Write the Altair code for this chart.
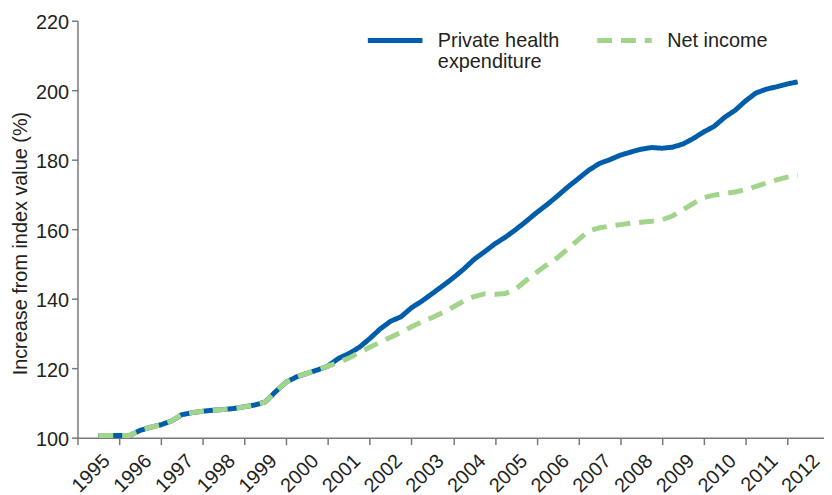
import altair as alt
import pandas as pd

# ---- data ----
years = list(range(1995, 2012))
quarters = [f"{y}-Q{q}" for y in years for q in (1, 2, 3, 4)]

private_health = [
    100.6, 100.6, 100.6, 100.6,
    102.1, 103.0, 103.7, 104.8,
    106.6, 107.2, 107.6, 107.9,
    108.1, 108.4, 108.9, 109.4,
    110.3, 113.3, 116.0, 117.5,
    118.5, 119.5, 120.6, 122.8,
    124.2, 126.0, 128.5, 131.3,
    133.5, 134.8, 137.4, 139.3,
    141.5, 143.7, 146.0, 148.5,
    151.3, 153.5, 155.8, 157.7,
    159.9, 162.3, 164.8, 167.1,
    169.6, 172.2, 174.6, 177.0,
    178.9, 180.0, 181.3, 182.2,
    183.0, 183.5, 183.3, 183.6,
    184.5, 186.1, 188.0, 189.6,
    192.2, 194.2, 196.9, 199.2,
    200.3, 201.0, 201.8, 202.4,
]
net_income = [
    100.6, 100.6, 100.6, 100.6,
    102.1, 103.0, 103.7, 104.8,
    106.6, 107.2, 107.6, 107.9,
    108.1, 108.4, 108.9, 109.4,
    110.3, 113.3, 116.0, 117.5,
    118.5, 119.5, 120.6, 121.6,
    122.9, 124.5, 126.0, 127.5,
    128.9, 130.3, 131.9, 133.3,
    134.6, 136.0, 137.6, 139.3,
    140.6, 141.4, 141.3, 141.5,
    142.8, 145.3, 147.6, 149.8,
    151.8, 154.4, 157.0, 159.5,
    160.4, 160.9, 161.3, 161.7,
    162.0, 162.3, 162.7, 163.8,
    165.6, 167.4, 169.1, 169.8,
    170.3, 170.7, 171.4, 172.3,
    173.3, 174.2, 175.0, 175.6,
]

series_names = ["Private health expenditure", "Net income"]
series_colors = ["#005DAA", "#A2D48C"]
series_dashes = [[1, 0], [15, 9]]
year_labels = list(range(1995, 2013))
y_ticks = [100, 120, 140, 160, 180, 200, 220]

rows = []
for name, vals in zip(series_names, [private_health, net_income]):
    for qlab, v in zip(quarters, vals):
        yr, q = qlab.split("-Q")
        rows.append({"quarter": qlab, "t": int(yr) + (int(q) - 1) / 4,
                     "value": v, "series": name})
df = pd.DataFrame(rows)

FONT = "Liberation Sans"
TXT = "#231F20"
AX = "#77787B"

legend = alt.Legend(
    title=None, orient="none", legendX=290, legendY=-10, direction="horizontal",
    symbolType="stroke", symbolSize=3025, symbolStrokeWidth=5,
    labelFontSize=20, labelFont=FONT, labelColor=TXT, labelOffset=13,
    columnPadding=27, labelLimit=400, padding=0, labelBaseline="middle",
    labelExpr="datum.label == 'Private health expenditure' ? ['Private health', 'expenditure'] : [datum.label, ' ']",
)

x_enc = alt.X(
    "t:Q",
    scale=alt.Scale(domain=[1994.5, 2012.38], nice=False, zero=False),
    axis=alt.Axis(
        values=year_labels, format="d", title=None, grid=False,
        tickOffset=-21.03, labelOffset=29, labelAngle=-45,
        labelAlign="right", labelBaseline="middle", labelPadding=13,
        tickSize=7, labelFontSize=20, labelOverlap=False, labelFlush=False,
    ),
)
y_enc = alt.Y(
    "value:Q",
    scale=alt.Scale(domain=[100, 220], nice=False, zero=False),
    axis=alt.Axis(
        values=y_ticks, title="Increase from index value (%)", grid=False,
        tickSize=6, labelPadding=3, labelFontSize=20, labelOffset=2,
        titleFontSize=20, titleFontWeight="normal", titleAngle=270,
        titleX=-51, titleY=224, titleBaseline="alphabetic", titleAlign="center",
    ),
)
color_enc = alt.Color("series:N", scale=alt.Scale(domain=series_names, range=series_colors), legend=legend)
dash_enc = alt.StrokeDash("series:N", scale=alt.Scale(domain=series_names, range=series_dashes), legend=legend)

layers = []
for name in series_names:
    layers.append(
        alt.Chart(df)
        .transform_filter(alt.datum.series == name)
        .mark_line(strokeWidth=5, strokeCap="butt", strokeJoin="round")
        .encode(x=x_enc, y=y_enc, color=color_enc, strokeDash=dash_enc, detail="series:N")
    )

chart = (
    alt.layer(*layers)
    .properties(
        width=752, height=420,
        autosize=alt.AutoSizeParams(type="none"),
        padding={"left": 70, "top": 11, "right": 0, "bottom": 60},
        background="white",
    )
    .configure_view(strokeOpacity=0)
    .configure_axis(
        labelFont=FONT, titleFont=FONT, labelColor=TXT, titleColor=TXT,
        domainColor=AX, tickColor=AX, domainWidth=1.5, tickWidth=1.5,
    )
)

chart.save("out.html", embed_options={"renderer": "svg", "actions": False})
